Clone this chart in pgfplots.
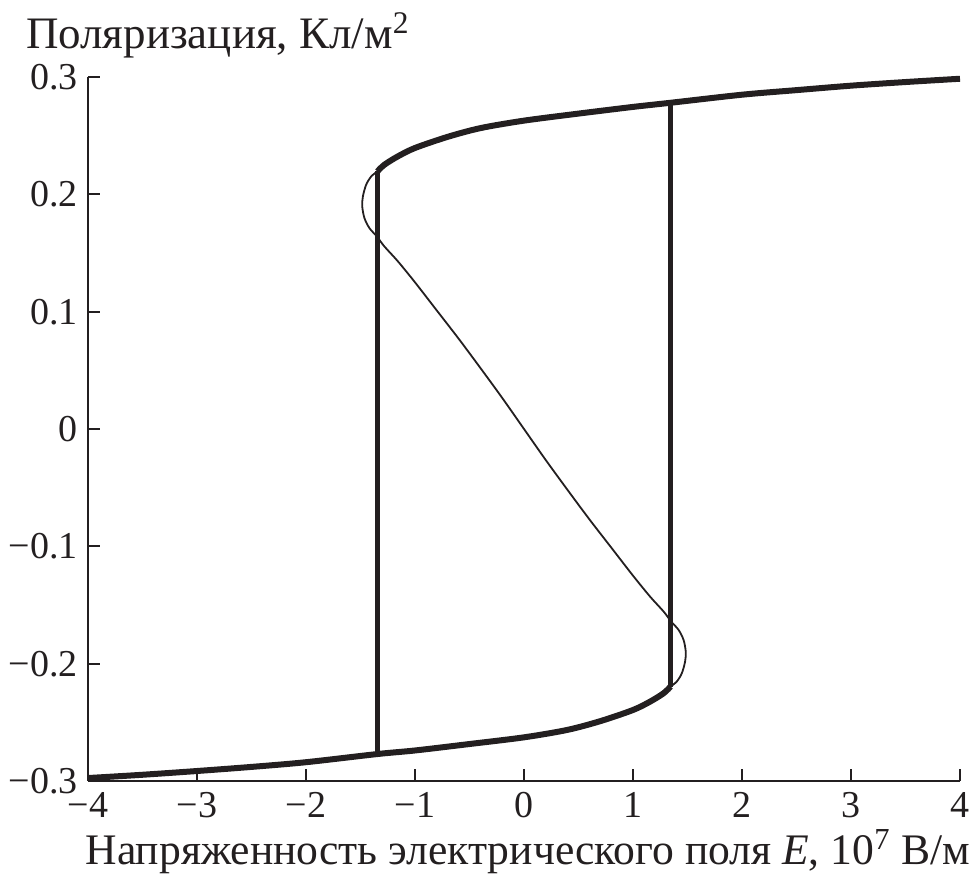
\documentclass[border=0pt]{standalone}
\usepackage{fontspec}
\setmainfont{Liberation Serif}
\usepackage{pgfplots}
\pgfplotsset{compat=1.18}
\usetikzlibrary{calc}
\definecolor{ink}{HTML}{231F20}
\begin{document}
\begin{tikzpicture}
\begin{axis}[
  name=ax,
  scale only axis,
  width=436pt, height=352pt,
  xmin=-4, xmax=4, ymin=-0.3, ymax=0.3,
  axis lines*=left,
  axis line style={ink, line width=1.1pt},
  tick align=inside,
  major tick length=6pt,
  tick style={ink, line width=1.1pt},
  xtick={-4,-3,-2,-1,0,1,2,3,4},
  xticklabels={−4,−3,−2,−1,0,1,2,3,4},
  ytick={-0.3,-0.2,-0.1,0,0.1,0.2,0.3},
  yticklabels={−0.3,−0.2,−0.1,0,0.1,0.2,0.3},
  ticklabel style={font=\fontsize{19}{22}\selectfont, text=ink},
  xticklabel style={yshift=-2pt},
  yticklabel style={xshift=-1.7pt},
  xlabel={Напряженность электрического поля \textit{E}, 10\textsuperscript{7} В/м},
  ylabel={Поляризация, Кл/м\textsuperscript{2}},
  every axis x label/.style={at={(axis description cs:0.5,0)}, anchor=base, yshift=-42pt, xshift=2pt, font=\fontsize{21.8}{25}\selectfont, text=ink},
  every axis y label/.style={at={(axis description cs:0,1)}, anchor=base west, xshift=-34.5pt, yshift=14pt, font=\fontsize{22.5}{26}\selectfont, text=ink},
  clip=false,
]
% thin S-curve (unstable part)
\addplot[ink, line width=0.9pt, smooth] coordinates {
  (-1.345,0.2195) (-1.402,0.2152) (-1.448,0.2082) (-1.478,0.1982) (-1.484,0.1897)
  (-1.464,0.1798) (-1.418,0.1712) (-1.350,0.1641) (-1.281,0.1556)
  (-1.158,0.1430) (-1.0,0.1250) (-0.8,0.1010) (-0.6,0.0770)
  (-0.4,0.0520) (-0.2,0.0265) (0,0) (0.2,-0.0265) (0.4,-0.0520) (0.6,-0.0770)
  (0.8,-0.1010) (1.0,-0.1250) (1.158,-0.1430)
  (1.281,-0.1556) (1.350,-0.1641) (1.418,-0.1712) (1.464,-0.1798) (1.484,-0.1897)
  (1.478,-0.1982) (1.448,-0.2082) (1.402,-0.2152) (1.345,-0.2195)
};
% upper branch
\addplot[ink, line width=3pt, smooth] coordinates {
  (-1.345,0.2195) (-1.281,0.2252) (-1.158,0.2323) (-1.0,0.2395) (-0.7,0.2490) (-0.396,0.2565)
  (0,0.2628) (0.5,0.2688) (1.0,0.2745) (1.342,0.278) (2,0.2849) (2.5,0.2888) (3,0.2926) (3.5,0.2957) (4,0.2985)
};
% lower branch
\addplot[ink, line width=3pt, smooth] coordinates {
  (-4,-0.2975) (-3.5,-0.2947) (-3,-0.2915) (-2.5,-0.2880) (-2,-0.2840) (-1.342,-0.2770)
  (-1.0,-0.2740) (-0.5,-0.2685) (0,-0.2628) (0.396,-0.2565) (0.7,-0.2490) (1.0,-0.2395) (1.158,-0.2323)
  (1.281,-0.2252) (1.345,-0.2195)
};
% vertical jumps
\addplot[ink, line width=2.8pt] coordinates {(-1.345,0.2195) (-1.345,-0.2770)};
\addplot[ink, line width=2.8pt] coordinates {(1.345,0.278) (1.345,-0.2195)};
\end{axis}
\pgfresetboundingbox
\path ($(ax.south west)+(-44pt,-49pt)$) rectangle ($(ax.north east)+(5pt,38.5pt)$);
\end{tikzpicture}
\end{document}
